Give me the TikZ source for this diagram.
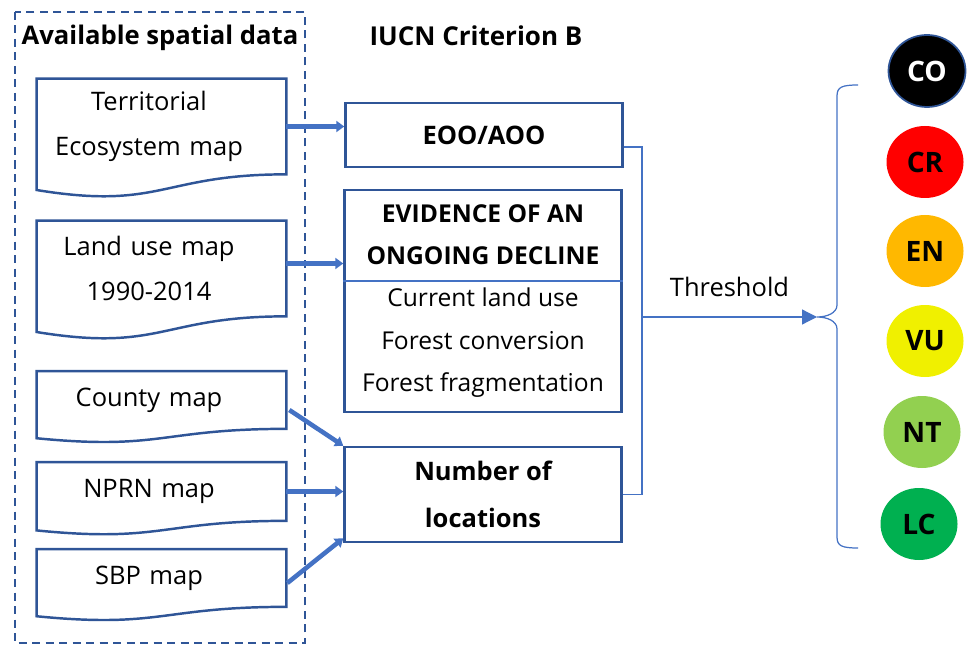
\documentclass[tikz,border=0pt]{standalone}
\usepackage{fontspec}
\setmainfont{Open Sans}
\usepackage{tikz}
\usetikzlibrary{arrows.meta, positioning, calc, shapes.geometric}

\definecolor{boxblue}{HTML}{2F5597}
\definecolor{linkblue}{HTML}{4472C4}
\definecolor{crred}{HTML}{FF0000}
\definecolor{enorange}{HTML}{FFB800}
\definecolor{vuyellow}{HTML}{F0F000}
\definecolor{ntgreen}{HTML}{92D050}
\definecolor{lcgreen}{HTML}{00B050}

\begin{document}
\begin{tikzpicture}[
    x=0.2mm, y=-0.2mm,
    mapdoc/.style={rectangle, inner sep=0pt, text width=44.8mm, align=center, font=\fontsize{14.5}{26}\selectfont},
    docline/.style={draw=boxblue, line width=1.4pt},
    critbox/.style={draw=boxblue, line width=1.4pt, rectangle, minimum width=55.4mm, align=center, inner sep=0pt},
    fatarrow/.style={-{Triangle[length=1.6mm,width=2.2mm]}, draw=linkblue, line width=2.6pt},
    link/.style={draw=linkblue, line width=0.7pt},
    status/.style={ellipse, minimum width=15.4mm, minimum height=14.4mm, inner sep=0pt, font=\bfseries\fontsize{16}{18}\selectfont}
]
    \useasboundingbox (0,0) rectangle (970,645);

    % Spatial data frame and titles
    \draw[boxblue, line width=1.1pt, dash pattern=on 1.6mm off 1.1mm] (15,12) rectangle (305,643);
    \node[font=\bfseries\fontsize{14.6}{18}\selectfont] (avail) at (160,38) {Available spatial data};
    \node[font=\bfseries\fontsize{14.8}{18}\selectfont] (iucn) at (476,36) {IUCN Criterion B};

    % Map documents
    \node[mapdoc, minimum height=19mm] (terr) at (149,126.5) {Territorial\\Ecosystem map};
    \node[mapdoc, minimum height=19mm] (land) at (149,268.5) {Land use map\\1990-2014};
    \node[mapdoc, minimum height=11.4mm] (county) at (149,400) {County map};
    \node[mapdoc, minimum height=11.6mm] (nprn) at (149,491.5) {NPRN map};
    \node[mapdoc, minimum height=11.4mm] (sbp) at (149,578) {SBP map};
    \foreach \n/\h in {terr/95, land/95, county/57, nprn/58, sbp/57}
        \draw[docline] (\n.north west) -- ([xshift=5mm]\n.north east) -- ([xshift=5mm]\n.south east)
            .. controls ($(\n.south)+(12.5,0)$) and ($(\n.south)+(12.5,0.38*\h)$) .. ($(\n.south west)+(0,0.165*\h)$) -- cycle;

    % Criterion B boxes
    \node[critbox, minimum height=12.8mm, font=\bfseries\fontsize{14.5}{18}\selectfont] (eoo) at (484,135) {EOO/AOO};
    \node[critbox, minimum height=44.4mm, font=\fontsize{14}{24}\selectfont] (decl) at (483,301)
        {\textbf{EVIDENCE OF AN}\\\textbf{ONGOING DECLINE}\\Current land use\\Forest conversion\\Forest fragmentation};
    \node[critbox, minimum height=19mm, font=\bfseries\fontsize{14.5}{27}\selectfont] (numb) at (483,494.5) {Number of\\locations};
    \coordinate (cut) at (483,281);
    \draw[link] (decl.west |- cut) -- (decl.east |- cut);

    % Data to criteria
    \draw[fatarrow] ([xshift=5mm]terr.east) -- (terr.east -| eoo.west);
    \draw[fatarrow] ([xshift=5mm,yshift=1mm]land.east) -- ([yshift=1mm]land.east -| decl.west);
    \draw[fatarrow] ([xshift=5.6mm,yshift=-2mm]county.east) -- (numb.north west);
    \draw[fatarrow] ([xshift=5mm]nprn.east) -- (nprn.east -| numb.west);
    \draw[fatarrow] ([xshift=5.2mm,yshift=-1mm]sbp.east) -- ([yshift=1mm]numb.south west);

    % Threshold and brace
    \coordinate (split) at (642,317);
    \coordinate (bracetip) at (817,317);
    \coordinate (btop) at (858,85);
    \coordinate (bbot) at (858,548);
    \draw[link] ([yshift=-2.4mm]eoo.east) -| (split);
    \draw[link] (numb.east) -| (split);
    \draw[link, -{Triangle[length=3mm,width=3mm]}] (split) -- node[above=2.8mm, font=\fontsize{14.5}{18}\selectfont] (thr) {Threshold} (bracetip);
    \draw[link] (btop) .. controls (842,85) and (837,87) .. (837,96) -- (837,305)
        .. controls (837,313) and (827,317) .. (bracetip)
        .. controls (827,317) and (837,321) .. (837,329) -- (837,537)
        .. controls (837,546) and (842,548) .. (bbot);

    % Categories
    \node[status, fill=black, draw=boxblue, line width=1pt, text=white] (co) at (927,71) {CO};
    \node[status, fill=crred] (cr) at (925,162) {CR};
    \node[status, fill=enorange] (en) at (925,251) {EN};
    \node[status, fill=vuyellow] (vu) at (925,341) {VU};
    \node[status, fill=ntgreen] (nt) at (922,432) {NT};
    \node[status, fill=lcgreen] (lc) at (919,524) {LC};

\end{tikzpicture}
\end{document}
